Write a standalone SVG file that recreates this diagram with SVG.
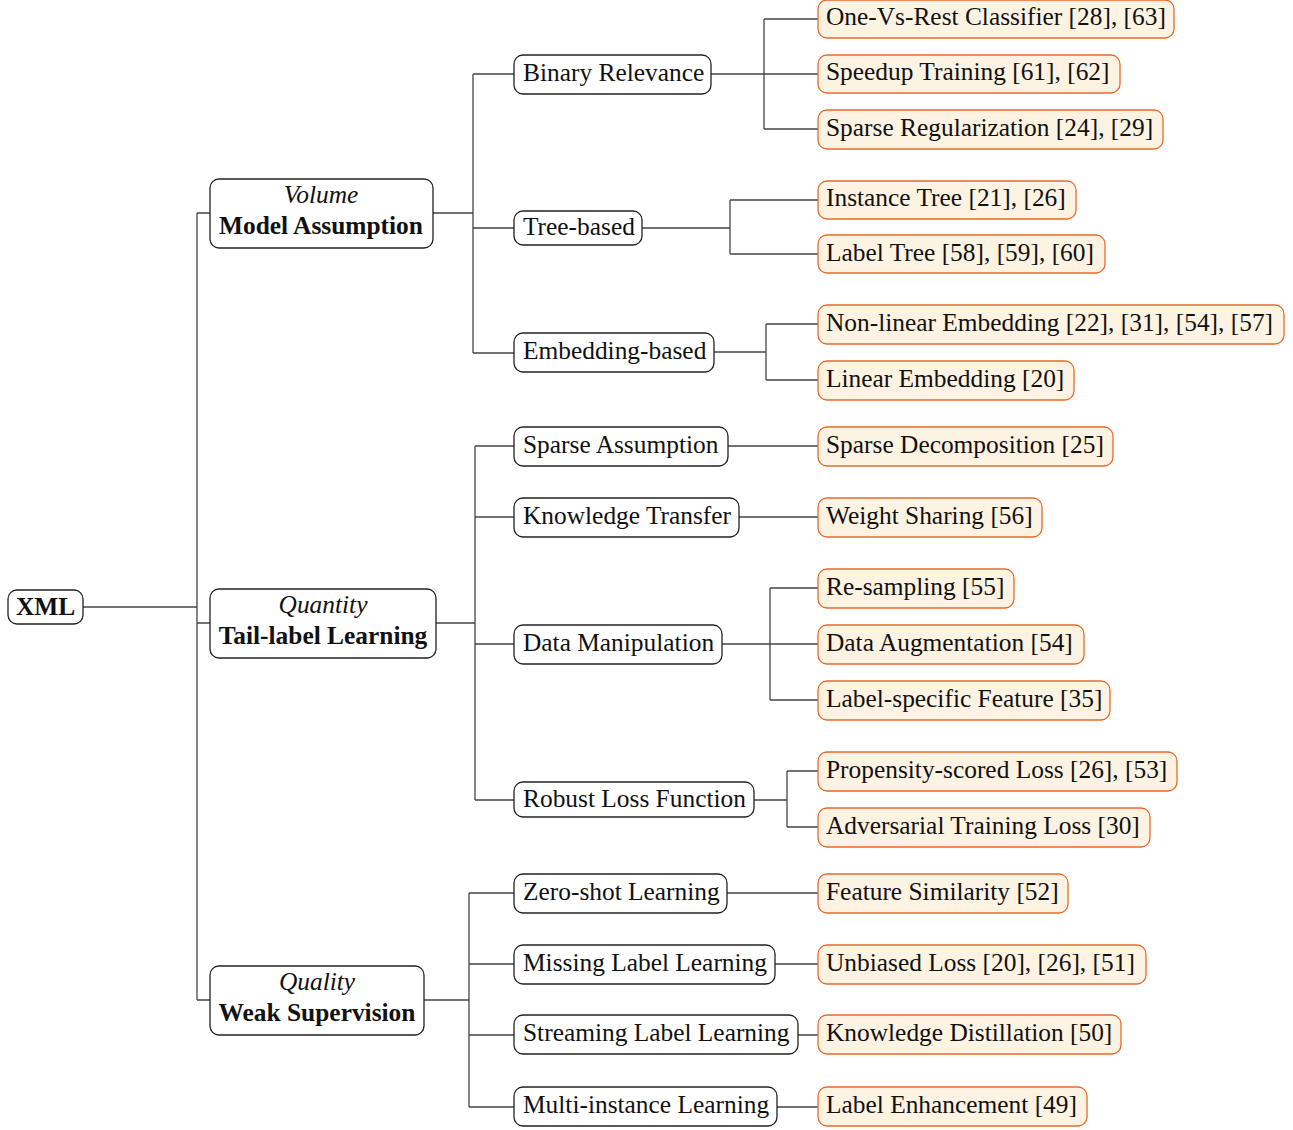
<svg xmlns="http://www.w3.org/2000/svg" width="1293" height="1130" viewBox="0 0 1293 1130">
<style>
text{font-family:"Liberation Serif","Times New Roman",serif;font-size:25.4px;fill:#111}
.n rect{fill:#fff;stroke:#222;stroke-width:1.3}
.l rect{fill:#fdf3e3;stroke:#ea6a2c;stroke-width:1.3}
.b{font-weight:bold}
.i{font-style:italic}
.c{text-anchor:middle}
#edges path{fill:none;stroke:#444;stroke-width:1.3}
</style>
<rect width="1293" height="1130" fill="#fff"/>
<g id="edges">
<path d="M83,607H197M197,213V1000M197,213H210M197,623H210M197,1000H210"/>
<path d="M433,213H473M473,74V353M473,74H514M473,228H514M473,353H514"/>
<path d="M711,74H764M764,19V129M764,19H818M764,74H818M764,129H818"/>
<path d="M642,228H730M730,200V254M730,200H818M730,254H818"/>
<path d="M714,352H766M766,324V380M766,324H818M766,380H818"/>
<path d="M436,623H475M475,446V800M475,446H514M475,517H514M475,644H514M475,800H514"/>
<path d="M728,446H818M739,517H818"/>
<path d="M722,644H770M770,588V700M770,588H818M770,644H818M770,700H818"/>
<path d="M754,800H787M787,771V827M787,771H818M787,827H818"/>
<path d="M424,1000H469M469,893V1107M469,893H514M469,964H514M469,1035H514M469,1107H514"/>
<path d="M727,893H818M775,964H818M798,1035H818M777,1107H818"/>
</g>
<g id="xml" class="n"><rect x="8" y="590" width="75" height="34" rx="9"/><text x="45.5" y="615" class="b c">XML</text></g>
<g id="volume" class="n"><rect x="210" y="179" width="223" height="69" rx="9"/><text x="321" y="203" class="i c">Volume</text><text x="321" y="234" class="b c">Model Assumption</text></g>
<g id="quantity" class="n"><rect x="210" y="589" width="226" height="69" rx="9"/><text x="323" y="613" class="i c">Quantity</text><text x="323" y="644" class="b c">Tail-label Learning</text></g>
<g id="quality" class="n"><rect x="210" y="966" width="214" height="69" rx="9"/><text x="317" y="990" class="i c">Quality</text><text x="317" y="1021" class="b c">Weak Supervision</text></g>

<g id="binary" class="n"><rect x="514" y="55" width="197" height="39" rx="9"/><text x="523" y="81">Binary Relevance</text></g>
<g id="tree" class="n"><rect x="514" y="211" width="128" height="34" rx="9"/><text x="523" y="235">Tree-based</text></g>
<g id="embed" class="n"><rect x="514" y="333" width="200" height="39" rx="9"/><text x="523" y="359">Embedding-based</text></g>
<g id="sparseA" class="n"><rect x="514" y="427" width="214" height="39" rx="9"/><text x="523" y="453">Sparse Assumption</text></g>
<g id="kt" class="n"><rect x="514" y="498" width="225" height="39" rx="9"/><text x="523" y="524">Knowledge Transfer</text></g>
<g id="dm" class="n"><rect x="514" y="625" width="208" height="39" rx="9"/><text x="523" y="651">Data Manipulation</text></g>
<g id="rlf" class="n"><rect x="514" y="782" width="240" height="35" rx="9"/><text x="523" y="807">Robust Loss Function</text></g>
<g id="zsl" class="n"><rect x="514" y="874" width="213" height="39" rx="9"/><text x="523" y="900">Zero-shot Learning</text></g>
<g id="mll" class="n"><rect x="514" y="945" width="261" height="39" rx="9"/><text x="523" y="971">Missing Label Learning</text></g>
<g id="sll" class="n"><rect x="514" y="1015" width="284" height="39" rx="9"/><text x="523" y="1041">Streaming Label Learning</text></g>
<g id="mil" class="n"><rect x="514" y="1087" width="263" height="39" rx="9"/><text x="523" y="1113">Multi-instance Learning</text></g>

<g id="ovr" class="l"><rect x="818" y="0" width="356" height="38" rx="9"/><text x="826" y="25">One-Vs-Rest Classifier [28], [63]</text></g>
<g id="speed" class="l"><rect x="818" y="55" width="302" height="38" rx="9"/><text x="826" y="80">Speedup Training [61], [62]</text></g>
<g id="sreg" class="l"><rect x="818" y="110" width="345" height="39" rx="9"/><text x="826" y="136">Sparse Regularization [24], [29]</text></g>
<g id="itree" class="l"><rect x="818" y="181" width="258" height="38" rx="9"/><text x="826" y="206">Instance Tree [21], [26]</text></g>
<g id="ltree" class="l"><rect x="818" y="235" width="287" height="38" rx="9"/><text x="826" y="261">Label Tree [58], [59], [60]</text></g>
<g id="nle" class="l"><rect x="818" y="305" width="466" height="39" rx="9"/><text x="826" y="331">Non-linear Embedding [22], [31], [54], [57]</text></g>
<g id="le" class="l"><rect x="818" y="361" width="256" height="39" rx="9"/><text x="826" y="387">Linear Embedding [20]</text></g>
<g id="sd" class="l"><rect x="818" y="427" width="295" height="39" rx="9"/><text x="826" y="453">Sparse Decomposition [25]</text></g>
<g id="ws" class="l"><rect x="818" y="498" width="224" height="39" rx="9"/><text x="826" y="524">Weight Sharing [56]</text></g>
<g id="rs" class="l"><rect x="818" y="569" width="196" height="39" rx="9"/><text x="826" y="595">Re-sampling [55]</text></g>
<g id="da" class="l"><rect x="818" y="625" width="266" height="39" rx="9"/><text x="826" y="651">Data Augmentation [54]</text></g>
<g id="lsf" class="l"><rect x="818" y="681" width="292" height="39" rx="9"/><text x="826" y="707">Label-specific Feature [35]</text></g>
<g id="psl" class="l"><rect x="818" y="752" width="359" height="39" rx="9"/><text x="826" y="778">Propensity-scored Loss [26], [53]</text></g>
<g id="atl" class="l"><rect x="818" y="808" width="332" height="39" rx="9"/><text x="826" y="834">Adversarial Training Loss [30]</text></g>
<g id="fs" class="l"><rect x="818" y="874" width="250" height="39" rx="9"/><text x="826" y="900">Feature Similarity [52]</text></g>
<g id="ul" class="l"><rect x="818" y="945" width="328" height="39" rx="9"/><text x="826" y="971">Unbiased Loss [20], [26], [51]</text></g>
<g id="kd" class="l"><rect x="818" y="1015" width="303" height="39" rx="9"/><text x="826" y="1041">Knowledge Distillation [50]</text></g>
<g id="lenh" class="l"><rect x="818" y="1087" width="269" height="39" rx="9"/><text x="826" y="1113">Label Enhancement [49]</text></g>
</svg>
